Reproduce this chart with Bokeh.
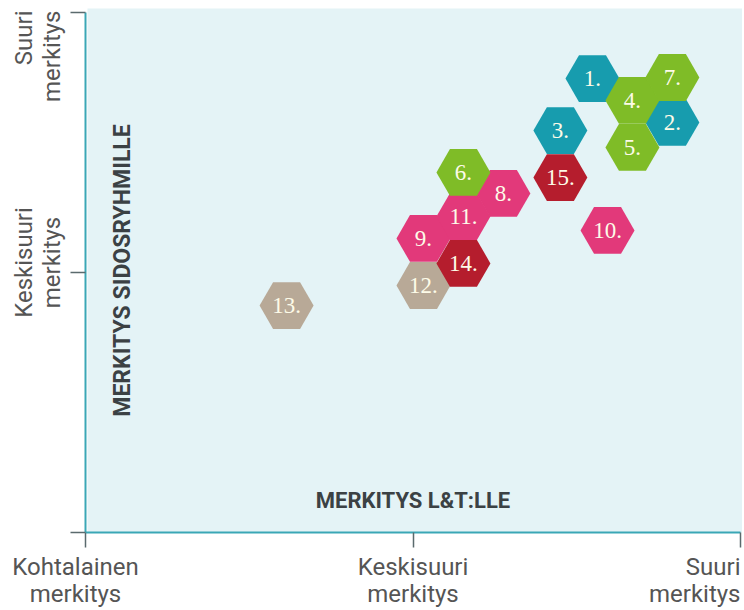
import math
from bokeh.plotting import figure
from bokeh.models import Range1d, Label, ColumnDataSource, FixedTicker
from bokeh.core.properties import value
from bokeh.embed import file_html
from bokeh.resources import INLINE

# ---- data ----
level_ticks = [1, 2, 3]
x_tick_labels = ["Kohtalainen\nmerkitys", "Keskisuuri\nmerkitys", "Suuri\nmerkitys"]
y_tick_labels = ["", "Keskisuuri\nmerkitys", "Suuri\nmerkitys"]
x_title = "MERKITYS L&T:LLE"
y_title = "MERKITYS SIDOSRYHMILLE"

topic_labels = ["8.", "9.", "10.", "11.", "1.", "2.", "3.", "4.", "5.", "6.", "7.", "12.", "13.", "14.", "15."]
importance_lt = [2.276, 2.032, 2.594, 2.154, 2.548, 2.792, 2.450, 2.670, 2.670, 2.154, 2.792, 2.032, 1.614, 2.154, 2.450]
importance_stakeholders = [2.304, 2.131, 2.162, 2.215, 2.746, 2.577, 2.546, 2.662, 2.481, 2.385, 2.750, 1.950, 1.873, 2.035, 2.365]
topic_group = ["pink", "pink", "pink", "pink", "teal", "teal", "teal", "green", "green", "green", "green",
               "beige", "beige", "red", "red"]

group_colors = {"teal": "#179cae", "green": "#7fbc27", "pink": "#e2397a", "red": "#b51d2d", "beige": "#b8a997"}

src = ColumnDataSource(dict(
    x=importance_lt,
    y=importance_stakeholders,
    label=topic_labels,
    color=[group_colors[g] for g in topic_group],
))

# ---- layout (pixels) ----
W, H = 742, 608
AX_LEFT, AX_RIGHT = 85, 740      # pixel of lowest / highest level on x
AX_BOTTOM, AX_TOP = 532, 12      # pixel of lowest / highest level on y
lo, hi = level_ticks[0], level_ticks[-1]
ux = (AX_RIGHT - AX_LEFT) / (hi - lo)
uy = (AX_BOTTOM - AX_TOP) / (hi - lo)
x_start, x_end = lo - AX_LEFT / ux, hi + (W - AX_RIGHT) / ux
y_start, y_end = lo - (H - AX_BOTTOM) / uy, hi + AX_TOP / uy

p = figure(width=W, height=H, output_backend="svg", toolbar_location=None,
           x_range=Range1d(x_start, x_end), y_range=Range1d(y_start, y_end),
           min_border=0)

p.background_fill_color = "white"
p.border_fill_color = "white"
p.outline_line_color = None
p.grid.visible = False

# light blue plotting area
p.quad(left=lo + 2 / ux, right=x_end, bottom=lo, top=hi + 4 / uy, fill_color="#e4f3f6", line_color=None)

axis_color = "#3aa7b6"
for ax in (p.xaxis[0], p.yaxis[0]):
    ax.fixed_location = lo
    ax.bounds = (lo, hi)
    ax.ticker = FixedTicker(ticks=level_ticks)
    ax.major_label_overrides = {t: "" for t in level_ticks}
    ax.axis_line_color = axis_color
    ax.axis_line_width = 2
    ax.major_tick_line_color = "#5a6a6d"
    ax.major_tick_line_width = 1.5
    ax.major_tick_out = 15
    ax.major_tick_in = 0
    ax.minor_tick_line_color = None

# hexagons
p.scatter(x="x", y="y", source=src, marker="hex", size=54, fill_color="color", line_color=None)
p.text(x="x", y="y", text="label", source=src, text_align="center", text_baseline="middle",
       text_font=value("Liberation Serif"), text_font_size="23px", text_color="#fdfbe8")

tick_font = "Roboto"
tick_color = "#555555"

# x tick labels
x_aligns = ["center", "center", "right"]
x_offsets = [-10, 0, 0]
for t, txt, al, off in zip(level_ticks, x_tick_labels, x_aligns, x_offsets):
    p.add_layout(Label(x=t, y=lo, text=txt, text_align=al, text_baseline="top",
                       x_offset=off, y_offset=-20, text_font=tick_font, text_font_size="24px",
                       text_color=tick_color, text_line_height=0.98))

# y tick labels (rotated)
y_aligns = ["center", "center", "right"]
y_offsets = [0, 10, 2]
for t, txt, al, off in zip(level_ticks, y_tick_labels, y_aligns, y_offsets):
    if not txt:
        continue
    p.add_layout(Label(x=lo, y=t, text=txt, angle=math.pi / 2, text_align=al,
                       text_baseline="middle", x_offset=-48, y_offset=off, text_font=tick_font,
                       text_font_size="24px", text_color=tick_color, text_line_height=1.0))

mid = level_ticks[1]
p.add_layout(Label(x=mid, y=lo, text=x_title, text_align="center", text_baseline="middle",
                   y_offset=32, text_font="Roboto", text_font_style="bold", text_font_size="22px",
                   text_color="#3b4144"))
p.add_layout(Label(x=lo, y=mid, text=y_title, angle=math.pi / 2, text_align="center",
                   text_baseline="middle", x_offset=37, y_offset=2, text_font="Roboto",
                   text_font_style="bold", text_font_size="23px", text_color="#3b4144"))

open("out.html", "w").write(file_html(p, INLINE))
